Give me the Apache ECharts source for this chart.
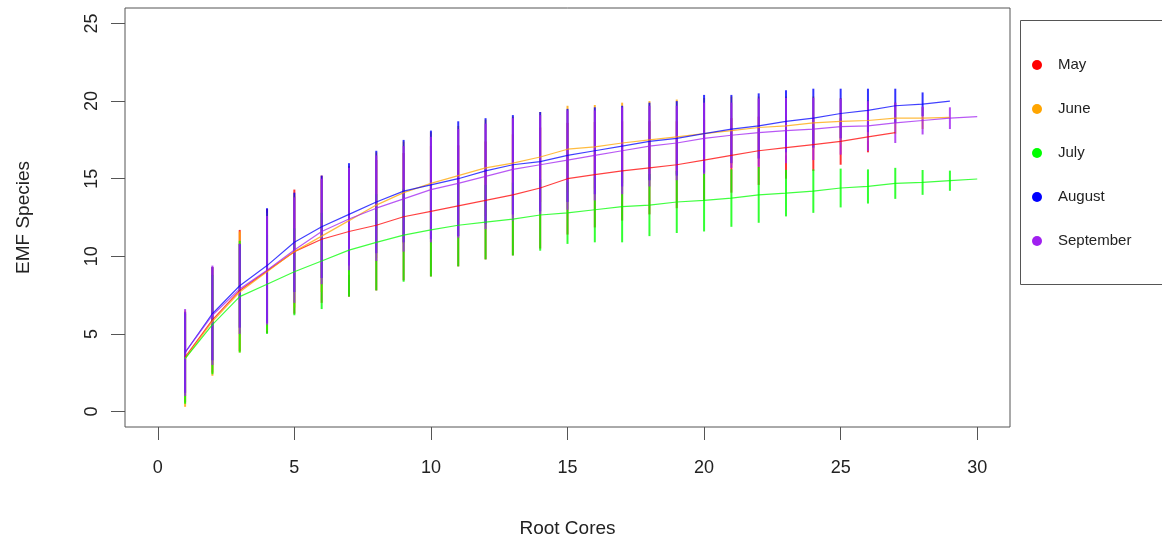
<!DOCTYPE html>
<html lang="en">
<head>
    <meta charset="UTF-8">
    <title>EMF Species accumulation</title>
    <script src="https://cdn.jsdelivr.net/npm/echarts@6/dist/echarts.min.js"></script>
    <style>
        html, body { margin: 0; padding: 0; background: #fff; }
    </style>
</head>
<body>
<div id="chart" style="width: 1162px;height: 543px"></div>
<script>
    // number of root cores sampled
    var cores = [1, 2, 3, 4, 5, 6, 7, 8, 9, 10, 11, 12, 13, 14, 15, 16, 17, 18, 19, 20,
                 21, 22, 23, 24, 25, 26, 27, 28, 29, 30];
    var xTicks = [0, 5, 10, 15, 20, 25, 30];
    var yTicks = [0, 5, 10, 15, 20, 25];
    var months = ['May', 'June', 'July', 'August', 'September'];
    var monthColors = ['#ff0000', '#ffa500', '#00ff00', '#0000ff', '#a020f0'];

    // mean species per number of cores
    var mayMean = [3.5, 5.9, 7.8, 9.05, 10.3, 11.1, 11.6, 12.0, 12.55, 12.9, 13.25, 13.6, 13.96, 14.4, 15.0,
                   15.26, 15.5, 15.7, 15.9, 16.2, 16.5, 16.8, 17.0, 17.2, 17.4, 17.7, 17.97];
    var juneMean = [3.4, 5.8, 7.7, 9.0, 10.3, 11.3, 12.3, 13.3, 14.1, 14.7, 15.2, 15.7, 16.0, 16.4, 16.9,
                    17.05, 17.3, 17.5, 17.7, 17.9, 18.1, 18.3, 18.4, 18.6, 18.7, 18.75, 18.9, 18.9, 18.95];
    var julyMean = [3.4, 5.6, 7.4, 8.2, 9.0, 9.7, 10.4, 10.9, 11.36, 11.7, 12.0, 12.2, 12.4, 12.66, 12.8,
                    13.0, 13.2, 13.3, 13.5, 13.6, 13.75, 13.96, 14.07, 14.2, 14.4, 14.5, 14.7, 14.76, 14.87, 14.98];
    var augMean = [3.8, 6.3, 8.1, 9.4, 10.9, 11.9, 12.7, 13.5, 14.2, 14.6, 15.0, 15.5, 15.9, 16.1, 16.5,
                   16.8, 17.1, 17.4, 17.6, 17.9, 18.2, 18.4, 18.7, 18.9, 19.2, 19.4, 19.7, 19.8, 20.0];
    var sepMean = [3.8, 6.2, 7.9, 9.1, 10.4, 11.6, 12.4, 13.1, 13.7, 14.3, 14.7, 15.15, 15.6, 15.9, 16.2,
                   16.5, 16.8, 17.1, 17.3, 17.6, 17.8, 17.97, 18.1, 18.2, 18.35, 18.4, 18.6, 18.75, 18.9, 19.0];

    // half length of the error bars
    var mayErr = [2.9, 3.4, 3.9, 4.0, 4.0, 4.1, 4.2, 4.2, 4.1, 4.2, 3.9, 3.8, 3.9, 3.9, 3.6,
                  3.4, 3.2, 3.0, 2.8, 2.6, 2.4, 2.2, 2.0, 1.7, 1.5, 1.0, 0];
    var juneErr = [3.1, 3.5, 3.9, 3.8, 3.6, 3.6, 3.5, 3.4, 3.3, 3.3, 3.2, 3.1, 3.0, 2.9, 2.8,
                   2.7, 2.6, 2.5, 2.4, 2.3, 2.2, 2.0, 1.9, 1.7, 1.5, 1.3, 1.0, 0.7, 0];
    var julyErr = [2.9, 3.2, 3.6, 3.2, 2.8, 3.1, 3.0, 3.1, 3.0, 3.0, 2.65, 2.4, 2.35, 2.3, 2.0,
                   2.1, 2.3, 2.0, 2.0, 2.0, 1.85, 1.8, 1.5, 1.4, 1.25, 1.1, 1.0, 0.8, 0.65, 0];
    var augErr = [2.6, 3.0, 2.7, 3.7, 3.2, 3.3, 3.3, 3.3, 3.3, 3.5, 3.7, 3.4, 3.2, 3.2, 3.0,
                  2.8, 2.6, 2.5, 2.4, 2.5, 2.2, 2.1, 2.0, 1.9, 1.6, 1.4, 1.1, 0.76, 0];
    var sepErr = [2.8, 3.2, 2.9, 3.5, 3.4, 3.4, 3.3, 3.4, 3.4, 3.4, 3.5, 3.4, 3.3, 3.2, 3.2,
                  2.9, 2.8, 2.6, 2.4, 2.3, 2.1, 2.2, 2.1, 2.0, 1.8, 1.6, 1.3, 0.9, 0.7, 0];

    var means = [mayMean, juneMean, julyMean, augMean, sepMean];
    var errs = [mayErr, juneErr, julyErr, augErr, sepErr];

    var series = [];
    months.forEach(function (m, k) {
        var col = monthColors[k];
        var bars = means[k].map(function (v, i) {
            return [cores[i], v - errs[k][i], v + errs[k][i]];
        });
        var pts = means[k].map(function (v, i) {
            return [cores[i], v];
        });
        // error bars first, then the curve on top
        series.push({
            name: m + ' sd',
            type: 'custom',
            data: bars,
            renderItem: function (params, api) {
                var p1 = api.coord([api.value(0), api.value(1)]);
                var p2 = api.coord([api.value(0), api.value(2)]);
                return {
                    type: 'line',
                    shape: {x1: p1[0], y1: p1[1], x2: p2[0], y2: p2[1]},
                    style: {stroke: col, lineWidth: 2, opacity: 0.8}
                };
            },
            silent: true
        });
        series.push({
            name: m,
            type: 'line',
            data: pts,
            color: col,
            showSymbol: false,
            lineStyle: {width: 1.2, opacity: 0.75},
            silent: true
        });
    });

    var textCol = '#222';
    var fontName = 'Liberation Sans, Arial, sans-serif';

    var chart = echarts.init(document.getElementById('chart'));
    var option = {
        animation: false,
        grid: {
            left: 125, right: 152, top: 8, bottom: 116,
            show: true,
            borderColor: '#555',
            borderWidth: 1
        },
        xAxis: {
            type: 'value',
            min: -1.2,
            max: 31.2,
            name: 'Root Cores',
            nameLocation: 'middle',
            nameGap: 92,
            nameTextStyle: {fontSize: 19, color: textCol, fontFamily: fontName},
            splitLine: {show: false},
            axisLine: {show: false, onZero: false},
            axisTick: {show: true, length: 13, customValues: xTicks, lineStyle: {color: '#555'}},
            axisLabel: {customValues: xTicks, margin: 32, fontSize: 18, color: textCol, fontFamily: fontName}
        },
        yAxis: {
            type: 'value',
            min: -1,
            max: 26,
            name: 'EMF Species',
            nameLocation: 'middle',
            nameGap: 92,
            nameTextStyle: {fontSize: 19, color: textCol, fontFamily: fontName},
            splitLine: {show: false},
            axisLine: {show: false, onZero: false},
            axisTick: {show: true, length: 14, customValues: yTicks, lineStyle: {color: '#555'}},
            axisLabel: {customValues: yTicks, rotate: 90, margin: 24, fontSize: 18, color: textCol, fontFamily: fontName}
        },
        legend: {
            data: months,
            orient: 'vertical',
            left: 1027,
            top: 51,
            icon: 'circle',
            itemWidth: 32,
            itemHeight: 10,
            itemGap: 26,
            textStyle: {fontSize: 15, lineHeight: 18, color: textCol, fontFamily: fontName}
        },
        graphic: [{
            type: 'rect',
            left: 1018,
            top: 18,
            shape: {width: 160, height: 264},
            style: {fill: 'none', stroke: '#555', lineWidth: 1}
        }],
        series: series
    };
    chart.setOption(option);
</script>
</body>
</html>
